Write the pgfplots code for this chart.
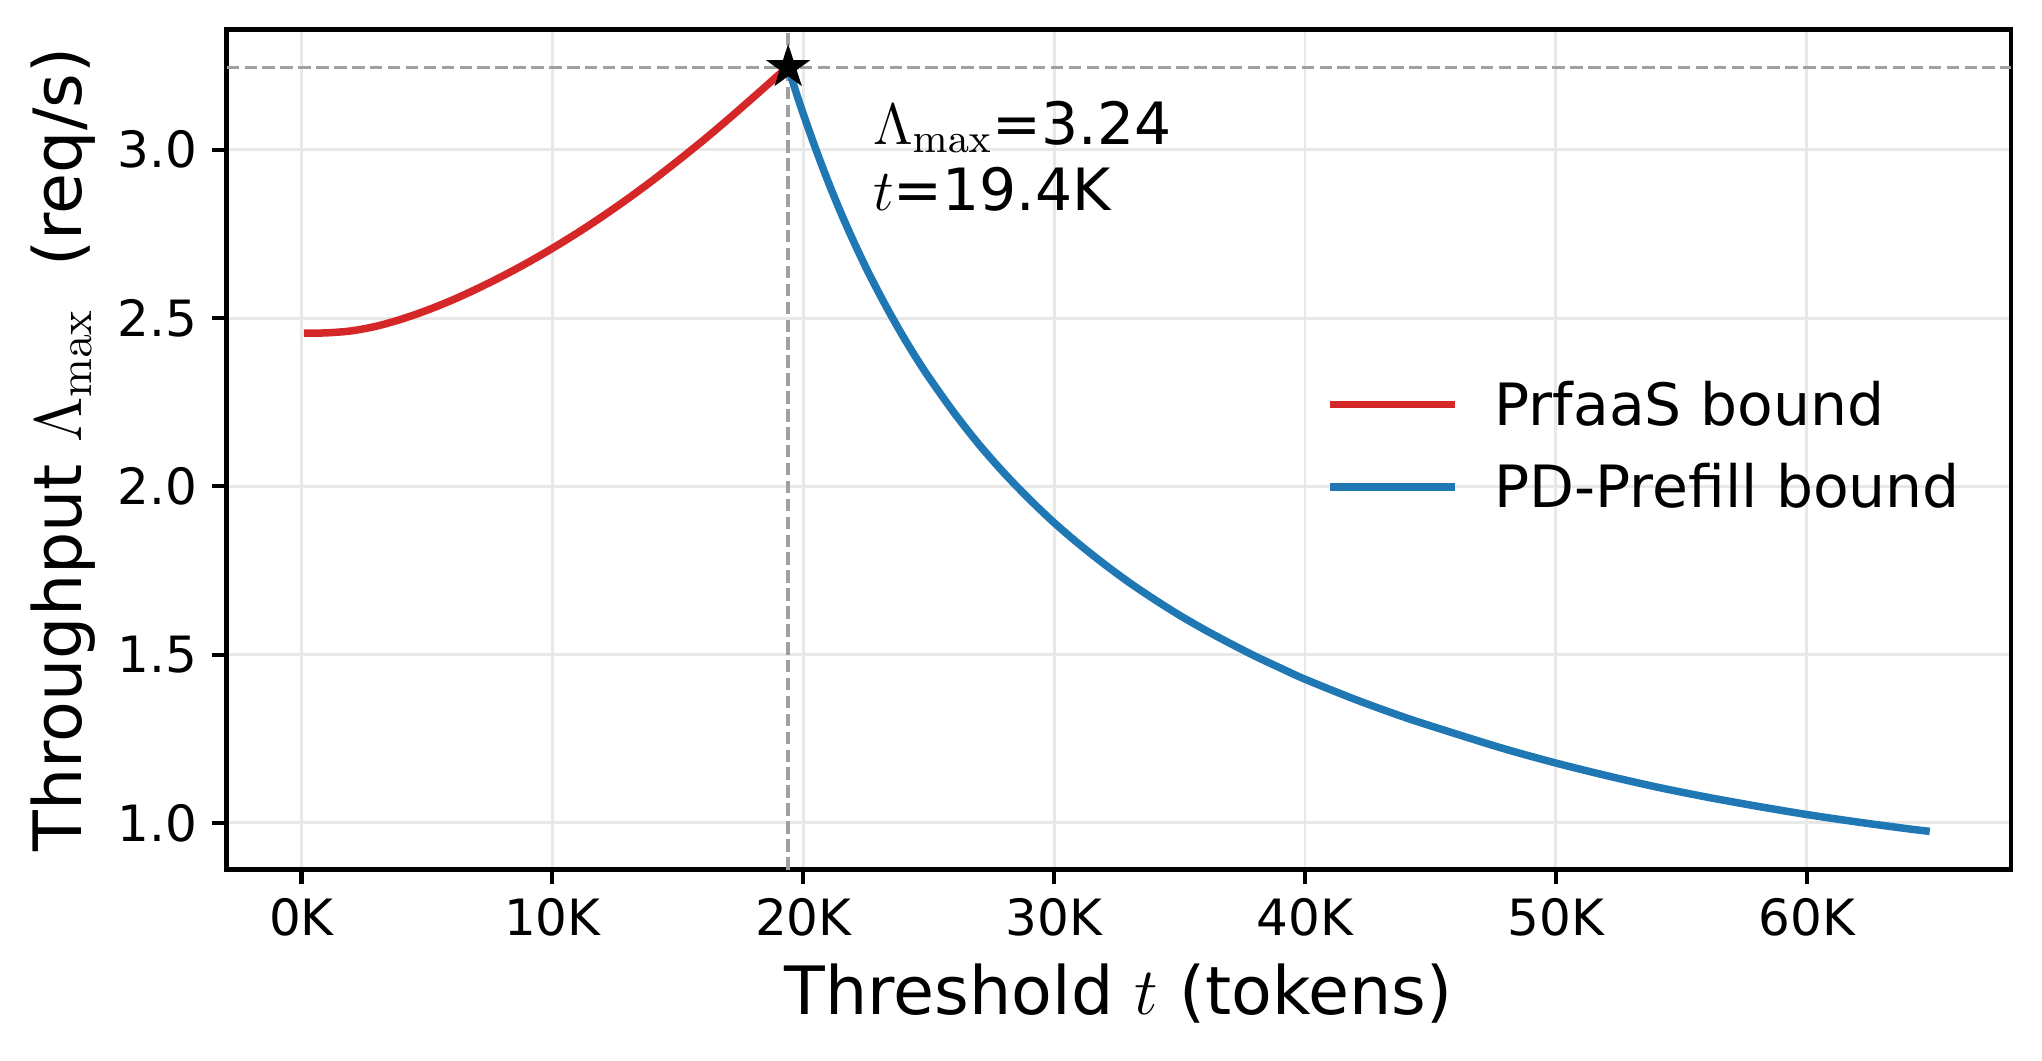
\RequirePackage{fix-cm}
\documentclass[border=0pt]{standalone}
\usepackage[no-math]{fontspec}
\setmainfont{DejaVu Sans}
\usepackage{pgfplots}
\usepackage{pgfplotstable}
\pgfplotsset{compat=1.18}

\definecolor{tabred}{RGB}{214,39,40}
\definecolor{tabblue}{RGB}{31,119,180}
\definecolor{refgray}{RGB}{160,160,160}
\definecolor{gridgray}{RGB}{232,232,232}

% filled five-pointed star, like matplotlib's '*'
\pgfdeclareplotmark{fstar}{%
  \pgfpathmoveto{\pgfpointpolar{90}{\pgfplotmarksize}}%
  \pgfpathlineto{\pgfpointpolar{126}{0.382\pgfplotmarksize}}%
  \pgfpathlineto{\pgfpointpolar{162}{\pgfplotmarksize}}%
  \pgfpathlineto{\pgfpointpolar{198}{0.382\pgfplotmarksize}}%
  \pgfpathlineto{\pgfpointpolar{234}{\pgfplotmarksize}}%
  \pgfpathlineto{\pgfpointpolar{270}{0.382\pgfplotmarksize}}%
  \pgfpathlineto{\pgfpointpolar{306}{\pgfplotmarksize}}%
  \pgfpathlineto{\pgfpointpolar{342}{0.382\pgfplotmarksize}}%
  \pgfpathlineto{\pgfpointpolar{18}{\pgfplotmarksize}}%
  \pgfpathlineto{\pgfpointpolar{54}{0.382\pgfplotmarksize}}%
  \pgfpathclose
  \pgfusepathqfillstroke}

% threshold in K tokens, throughput in req/s
\pgfplotstableread{
t     lam
0.1   2.455
1     2.456
2     2.462
3     2.476
4     2.497
5     2.523
6     2.553
7     2.587
8     2.624
9     2.664
10    2.707
11    2.753
12    2.802
13    2.854
14    2.909
15    2.967
16    3.027
17    3.090
18    3.155
19    3.221
19.4  3.247
}\prfaas

\pgfplotstableread{
t     lam
19.4  3.246
19.7  3.174
20.0  3.107
20.5  3.002
21.0  2.904
21.5  2.813
22.0  2.729
22.5  2.650
23.0  2.577
23.5  2.508
24.0  2.443
24.5  2.382
25.0  2.325
26.0  2.220
27.0  2.125
28.0  2.040
29.0  1.963
30.0  1.892
31.0  1.828
32.0  1.769
33.0  1.714
34.0  1.664
35.0  1.617
36.0  1.574
37.0  1.534
38.0  1.496
39.0  1.461
40.0  1.427
42.0  1.367
44.0  1.313
46.0  1.265
48.0  1.219
50.0  1.178
52.0  1.141
54.0  1.107
56.0  1.077
58.0  1.050
60.0  1.025
62.0  1.003
64.0  0.983
64.9  0.975
}\pdprefill

\begin{document}
\begin{tikzpicture}
\begin{axis}[
  width=428.2pt, height=201.6pt, scale only axis,
  xmin=-2.98, xmax=68.13,
  ymin=0.8615, ymax=3.357,
  xtick={0,10,20,30,40,50,60},
  xticklabels={0K,10K,20K,30K,40K,50K,60K},
  ytick={1,1.5,2,2.5,3},
  yticklabel style={/pgf/number format/.cd, fixed, fixed zerofill, precision=1},
  /pgf/number format/assume math mode=true,
  tick align=outside,
  xtick pos=bottom, ytick pos=left,
  major tick length=3.5pt,
  tick style={black, line width=1pt},
  axis line style={line width=1.06pt},
  grid=major,
  major grid style={gridgray, line width=0.7pt},
  tick label style={font=\fontsize{12}{14}\selectfont},
  label style={font=\fontsize{16}{19}\selectfont},
  xlabel={Threshold $t$ (tokens)},
  ylabel={Throughput $\Lambda_{\max}$\ \ (req/s)},
  xlabel style={at={(axis description cs:0.5,-0.1726)}, anchor=base},
  ylabel style={at={(axis description cs:-0.0815,0.5)}, anchor=base},
  legend image code/.code={\draw[#1] (0pt,0pt) -- (30pt,0pt);},
  legend cell align=left,
  legend style={draw=none, fill=none, inner sep=0pt, outer sep=0pt,
    at={(axis cs:40.85,2.305)}, anchor=north west,
    font=\fontsize{14}{17}\selectfont,
    nodes={inner sep=0pt, text height=10pt, text depth=0pt},
    column sep=8.6pt, row sep=9.8pt},
]
\addplot[refgray, line width=0.8pt, dash pattern=on 3pt off 1.3pt, forget plot]
  coordinates {(19.4,0.8615) (19.4,3.357)};
\addplot[refgray, line width=0.8pt, dash pattern=on 3pt off 1.3pt, forget plot]
  coordinates {(-2.98,3.244) (68.13,3.244)};

\addplot[tabred, line width=1.8pt, smooth, tension=0.5] table[x=t, y=lam] {\prfaas};
\addlegendentry{PrfaaS bound}
\addplot[tabblue, line width=1.8pt, smooth, tension=0.5] table[x=t, y=lam] {\pdprefill};
\addlegendentry{PD-Prefill bound}

\addplot[only marks, mark=fstar, mark size=4.8pt, black, line width=0.5pt, forget plot]
  coordinates {(19.4,3.245)};

\node[anchor=base west, inner sep=0pt, font=\fontsize{14}{17}\selectfont]
  at (axis cs:22.75,3.017) {$\Lambda_{\max}$=3.24};
\node[anchor=base west, inner sep=0pt, font=\fontsize{14}{17}\selectfont]
  at (axis cs:22.75,2.82) {$t$=19.4K};
\end{axis}
\pgfresetboundingbox
\path ([xshift=-54.4pt,yshift=-45.9pt]current axis.south west)
  rectangle ([xshift=7.5pt,yshift=7.1pt]current axis.north east);
\end{tikzpicture}
\end{document}
